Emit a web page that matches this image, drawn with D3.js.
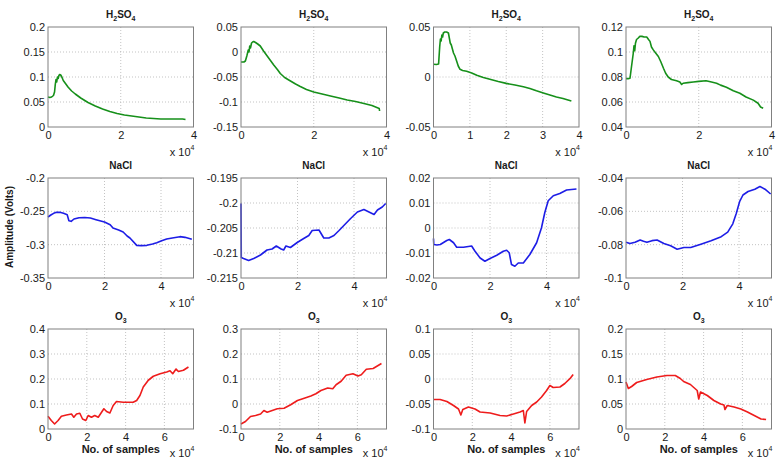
<!DOCTYPE html>
<html>
<head>
<meta charset="utf-8">
<script src="https://cdn.jsdelivr.net/npm/d3@7"></script>
<style>
  html, body { margin: 0; padding: 0; background: #fff; }
  svg { display: block; font-family: "Liberation Sans", Arial, Helvetica, sans-serif; }
</style>
</head>
<body>
<svg id="chart" width="781" height="463"></svg>
<script>
// ---------------- DATA (x in samples, y in volts) ----------------
const h2so4_1 = [[0,0.060],[500,0.059],[1000,0.060],[1500,0.063],[1800,0.070],[2000,0.085],[2200,0.095],[2400,0.090],[2600,0.100],[2800,0.097],[3000,0.103],[3200,0.105],[3500,0.104],[3800,0.100],[4200,0.093],[4800,0.087],[5500,0.080],[6500,0.072],[7500,0.066],[9000,0.058],[11000,0.049],[13000,0.042],[15000,0.036],[17000,0.031],[19000,0.027],[21000,0.024],[23000,0.022],[25000,0.020],[27000,0.018],[29000,0.017],[31000,0.016],[33000,0.016],[35000,0.016],[37000,0.016],[37800,0.015]];
const h2so4_2 = [[0,-0.020],[800,-0.020],[1200,-0.018],[1600,-0.008],[1800,-0.002],[2000,0.004],[2200,0.000],[2400,0.012],[2600,0.008],[2900,0.018],[3200,0.020],[3500,0.021],[4000,0.019],[4600,0.016],[5300,0.012],[6200,0.002],[7200,-0.008],[8200,-0.018],[9000,-0.026],[10000,-0.035],[10800,-0.043],[12000,-0.051],[13600,-0.058],[15000,-0.064],[16300,-0.069],[18000,-0.075],[20000,-0.080],[22300,-0.084],[24600,-0.088],[27000,-0.092],[29200,-0.096],[31500,-0.099],[33800,-0.103],[36000,-0.107],[38000,-0.113],[38100,-0.118]];
const h2so4_3 = [[0,0.0128],[800,0.0125],[1400,0.0130],[1700,0.030],[1900,0.038],[2100,0.036],[2300,0.042],[2500,0.040],[2700,0.044],[3100,0.045],[3600,0.045],[4100,0.044],[4400,0.038],[4600,0.034],[4900,0.032],[5200,0.028],[5500,0.024],[5900,0.021],[6400,0.0154],[6800,0.011],[7300,0.0077],[8000,0.0065],[9100,0.0057],[10500,0.004],[11900,0.0017],[13700,-0.0005],[15500,-0.0023],[17800,-0.0045],[20000,-0.0064],[22400,-0.0080],[24700,-0.0097],[26500,-0.0115],[28300,-0.0138],[30200,-0.016],[32000,-0.018],[33800,-0.020],[35600,-0.0215],[37900,-0.024]];
const h2so4_4 = [[0,0.0787],[600,0.0787],[1100,0.0790],[1500,0.088],[2000,0.099],[2200,0.105],[2400,0.101],[2600,0.107],[2900,0.110],[3300,0.111],[3800,0.1125],[4400,0.1125],[5000,0.112],[5700,0.112],[6200,0.110],[6600,0.1085],[7000,0.104],[7500,0.1017],[8200,0.099],[8900,0.0964],[9600,0.092],[10300,0.087],[10900,0.083],[11600,0.080],[12500,0.078],[13900,0.077],[14800,0.076],[15300,0.074],[15700,0.075],[17000,0.0755],[18500,0.076],[20000,0.0765],[22000,0.077],[23500,0.076],[24900,0.075],[26000,0.0735],[27600,0.0718],[29500,0.069],[31300,0.067],[33000,0.064],[35000,0.0615],[36300,0.059],[37000,0.056],[37700,0.055]];

const nacl_1 = [[0,-0.2585],[1000,-0.2555],[2000,-0.2530],[3000,-0.2515],[4200,-0.2514],[5500,-0.2530],[6800,-0.2550],[7400,-0.2640],[8200,-0.2650],[9200,-0.2615],[11000,-0.2596],[13000,-0.2592],[15000,-0.2600],[17000,-0.2625],[20000,-0.2660],[22000,-0.2700],[23000,-0.2750],[25000,-0.2780],[26600,-0.2810],[28000,-0.2870],[29000,-0.2900],[31400,-0.3010],[33000,-0.3015],[35000,-0.3010],[37000,-0.2990],[38500,-0.2970],[40000,-0.2945],[42000,-0.2915],[44000,-0.2900],[46700,-0.2880],[48500,-0.2890],[50900,-0.2920]];
const nacl_2 = [[0,-0.2001],[100,-0.2109],[900,-0.2111],[2700,-0.2115],[4500,-0.2111],[6900,-0.2104],[9200,-0.2094],[11000,-0.2092],[12500,-0.2086],[14200,-0.2092],[15100,-0.2094],[15900,-0.2086],[17500,-0.2089],[19900,-0.2079],[22200,-0.2071],[24000,-0.2065],[25200,-0.2055],[27600,-0.2054],[29300,-0.2070],[31100,-0.2070],[32900,-0.2065],[34700,-0.2055],[36400,-0.2045],[38800,-0.2031],[41200,-0.2018],[43500,-0.2013],[45300,-0.2018],[47100,-0.2023],[48300,-0.2014],[50000,-0.2008],[51200,-0.2001]];
const nacl_3 = [[0,-0.0042],[100,-0.0066],[1200,-0.0068],[2400,-0.0066],[4700,-0.0050],[5600,-0.0046],[7100,-0.0059],[8200,-0.0077],[10600,-0.0077],[13500,-0.0072],[14700,-0.0093],[16500,-0.0120],[18200,-0.0133],[20000,-0.0122],[22400,-0.0109],[24700,-0.0093],[25900,-0.0089],[26800,-0.0099],[27600,-0.0146],[28800,-0.0153],[30000,-0.0140],[31800,-0.0140],[34100,-0.0106],[36500,-0.0059],[38200,0.0000],[39400,0.0062],[40600,0.0109],[42400,0.0129],[44700,0.0138],[47100,0.0152],[50600,0.0156]];
const nacl_4 = [[0,-0.0786],[1400,-0.0793],[3200,-0.0786],[5000,-0.0772],[6200,-0.0780],[7400,-0.0786],[9200,-0.0776],[11000,-0.0772],[13400,-0.0793],[15800,-0.0807],[18100,-0.0827],[20500,-0.0817],[22900,-0.0817],[26500,-0.0797],[30100,-0.0776],[33700,-0.0752],[36000,-0.0725],[37800,-0.0675],[39000,-0.0614],[40200,-0.0542],[41400,-0.0502],[43200,-0.0481],[45600,-0.0467],[47400,-0.0451],[49200,-0.0467],[51200,-0.0496]];

const o3_1 = [[0,0.051],[1700,0.034],[3400,0.020],[5200,0.034],[6900,0.051],[9500,0.056],[12100,0.060],[13300,0.047],[14700,0.060],[16400,0.063],[17800,0.040],[19500,0.034],[20700,0.054],[22400,0.047],[24100,0.054],[25900,0.047],[27600,0.067],[28800,0.081],[30200,0.070],[31900,0.064],[33600,0.094],[35300,0.110],[38800,0.107],[43900,0.107],[45700,0.114],[47400,0.134],[49100,0.168],[51700,0.195],[54300,0.211],[57800,0.221],[61200,0.228],[62900,0.233],[64300,0.221],[66000,0.240],[67200,0.230],[69800,0.235],[72400,0.248]];
const o3_2 = [[0,-0.080],[2300,-0.070],[4900,-0.050],[7500,-0.046],[10100,-0.040],[11800,-0.026],[13500,-0.033],[16100,-0.026],[18700,-0.019],[22200,-0.017],[25600,-0.003],[29100,0.014],[32600,0.023],[36000,0.032],[38600,0.041],[41200,0.054],[44700,0.064],[47300,0.061],[49000,0.077],[51600,0.091],[54200,0.115],[57700,0.121],[60300,0.112],[62000,0.117],[64600,0.139],[68100,0.142],[72400,0.162]];
const o3_3 = [[0,-0.041],[3400,-0.041],[6900,-0.045],[10300,-0.053],[12900,-0.060],[14100,-0.072],[15100,-0.061],[18000,-0.056],[21400,-0.060],[24000,-0.066],[29200,-0.068],[34300,-0.073],[37700,-0.074],[41200,-0.070],[44600,-0.066],[46300,-0.063],[47100,-0.088],[48000,-0.065],[50600,-0.053],[53200,-0.046],[55700,-0.036],[58300,-0.023],[60000,-0.013],[61700,-0.017],[65200,-0.016],[67700,-0.009],[70300,0.0007],[72000,0.009]];
const o3_4 = [[0,0.094],[1200,0.081],[2900,0.085],[5500,0.093],[10700,0.099],[15900,0.104],[21100,0.107],[25400,0.107],[28000,0.101],[29700,0.095],[33200,0.089],[36700,0.077],[37500,0.060],[38400,0.074],[41900,0.067],[45300,0.057],[48800,0.050],[50500,0.048],[51000,0.039],[52200,0.047],[55700,0.044],[59200,0.040],[62600,0.034],[66100,0.027],[69600,0.020],[72200,0.019]];

// y-axis ranges and tick values (volts)
const yDomains = [[0,0.2],[-0.15,0.05],[-0.05,0.05],[0.04,0.12],
                  [-0.35,-0.2],[-0.215,-0.195],[-0.02,0.02],[-0.1,-0.04],
                  [0,0.4],[-0.1,0.3],[-0.1,0.1],[0,0.2]];
const yTicks = [[0,0.05,0.1,0.15,0.2],[-0.15,-0.1,-0.05,0,0.05],[-0.05,0,0.05],[0.04,0.06,0.08,0.1,0.12],
                [-0.35,-0.3,-0.25,-0.2],[-0.215,-0.21,-0.205,-0.2,-0.195],[-0.02,-0.01,0,0.01,0.02],[-0.1,-0.08,-0.06,-0.04],
                [0,0.1,0.2,0.3,0.4],[-0.1,0,0.1,0.2,0.3],[-0.1,-0.05,0,0.05,0.1],[0,0.05,0.1,0.15,0.2]];
// x-axis ranges (samples) and tick labels (x 10^4)
const xMaxByRow = [40000, 51500, 75000];
const xTicks = [[0,2,4],[0,2,4],[0,1,2,3,4],[0,2,4],
                [0,2,4],[0,2,4],[0,2,4],[0,2,4],
                [0,2,4,6],[0,2,4,6],[0,2,4,6],[0,2,4,6]];
const series = [h2so4_1,h2so4_2,h2so4_3,h2so4_4, nacl_1,nacl_2,nacl_3,nacl_4, o3_1,o3_2,o3_3,o3_4];
const rowTitles = ["H2SO4","NaCl","O3"];
const rowColors = ["#16901a","#1d1de6","#ee1c1c"];

// ---------------- LAYOUT ----------------
const svg = d3.select("#chart");
const colLeft = [48, 241, 433.5, 626];
const rowTop = [27, 178, 329];
const pw = 145.5, ph = 100;
const fmt = v => String(+v.toFixed(4));

series.forEach((data, i) => {
  const r = Math.floor(i / 4), c = i % 4;
  const L = colLeft[c], T = rowTop[r];
  const x = d3.scaleLinear().domain([0, xMaxByRow[r]]).range([L, L + pw]);
  const y = d3.scaleLinear().domain(yDomains[i]).range([T + ph, T]);
  const g = svg.append("g");

  // grid
  xTicks[i].forEach(t => {
    const xv = x(t * 1e4);
    if (xv > L + 1 && xv < L + pw - 1)
      g.append("line").attr("x1", xv).attr("x2", xv).attr("y1", T).attr("y2", T + ph)
        .attr("stroke", "#b4b4b4").attr("stroke-width", 0.8).attr("stroke-dasharray", "1,2");
  });
  yTicks[i].forEach(t => {
    const yv = y(t);
    if (yv > T + 1 && yv < T + ph - 1)
      g.append("line").attr("x1", L).attr("x2", L + pw).attr("y1", yv).attr("y2", yv)
        .attr("stroke", "#b4b4b4").attr("stroke-width", 0.8).attr("stroke-dasharray", "1,2");
  });

  // axes via d3 axis (labels), box drawn separately
  const yAxis = d3.axisLeft(y).tickValues(yTicks[i]).tickSize(0).tickPadding(3).tickFormat(fmt);
  const ya = g.append("g").attr("transform", `translate(${L},0)`).call(yAxis);
  const xAxis = d3.axisBottom(x).tickValues(xTicks[i].map(t => t * 1e4)).tickSize(0).tickPadding(4)
    .tickFormat(v => String(v / 1e4));
  const xa = g.append("g").attr("transform", `translate(0,${T + ph})`).call(xAxis);
  [ya, xa].forEach(a => {
    a.select(".domain").remove();
    a.selectAll("text").attr("font-size", 11).attr("fill", "#1a1a1a")
      .attr("font-family", '"Liberation Sans", Arial, sans-serif');
  });

  // data line
  g.append("path").datum(data)
    .attr("d", d3.line().x(d => x(d[0])).y(d => y(d[1])))
    .attr("fill", "none").attr("stroke", rowColors[r]).attr("stroke-width", 1.6)
    .attr("stroke-linejoin", "round");

  // box
  g.append("rect").attr("x", L).attr("y", T).attr("width", pw).attr("height", ph)
    .attr("fill", "none").attr("stroke", "#808080").attr("stroke-width", 1);

  // title
  const tt = g.append("text").attr("x", L + pw / 2).attr("y", T - 9)
    .attr("text-anchor", "middle").attr("font-size", 10).attr("font-weight", "bold").attr("fill", "#1a1a1a");
  if (rowTitles[r] === "H2SO4") {
    tt.append("tspan").text("H");
    tt.append("tspan").attr("font-size", 7).attr("dy", 3).text("2");
    tt.append("tspan").attr("dy", -3).text("SO");
    tt.append("tspan").attr("font-size", 7).attr("dy", 3).text("4");
  } else if (rowTitles[r] === "O3") {
    tt.append("tspan").text("O");
    tt.append("tspan").attr("font-size", 7).attr("dy", 3).text("3");
  } else {
    tt.text(rowTitles[r]);
  }

  // exponent label x 10^4
  const ex = g.append("text").attr("x", L + pw + 1).attr("y", T + ph + (r === 2 ? 28 : 29))
    .attr("text-anchor", "end").attr("font-size", 11).attr("fill", "#1a1a1a");
  ex.append("tspan").text("x 10");
  ex.append("tspan").attr("font-size", 7).attr("dy", -6).text("4");

  // x label on bottom row
  if (r === 2) {
    g.append("text").attr("x", L + pw / 2).attr("y", T + ph + 24)
      .attr("text-anchor", "middle").attr("font-size", 11).attr("font-weight", "bold").attr("fill", "#1a1a1a")
      .text("No. of samples");
  }
});

// y label
svg.append("text").attr("transform", "translate(13,227) rotate(-90)")
  .attr("text-anchor", "middle").attr("font-size", 10).attr("font-weight", "bold").attr("fill", "#1a1a1a")
  .text("Amplitude (Volts)");
</script>
</body>
</html>
